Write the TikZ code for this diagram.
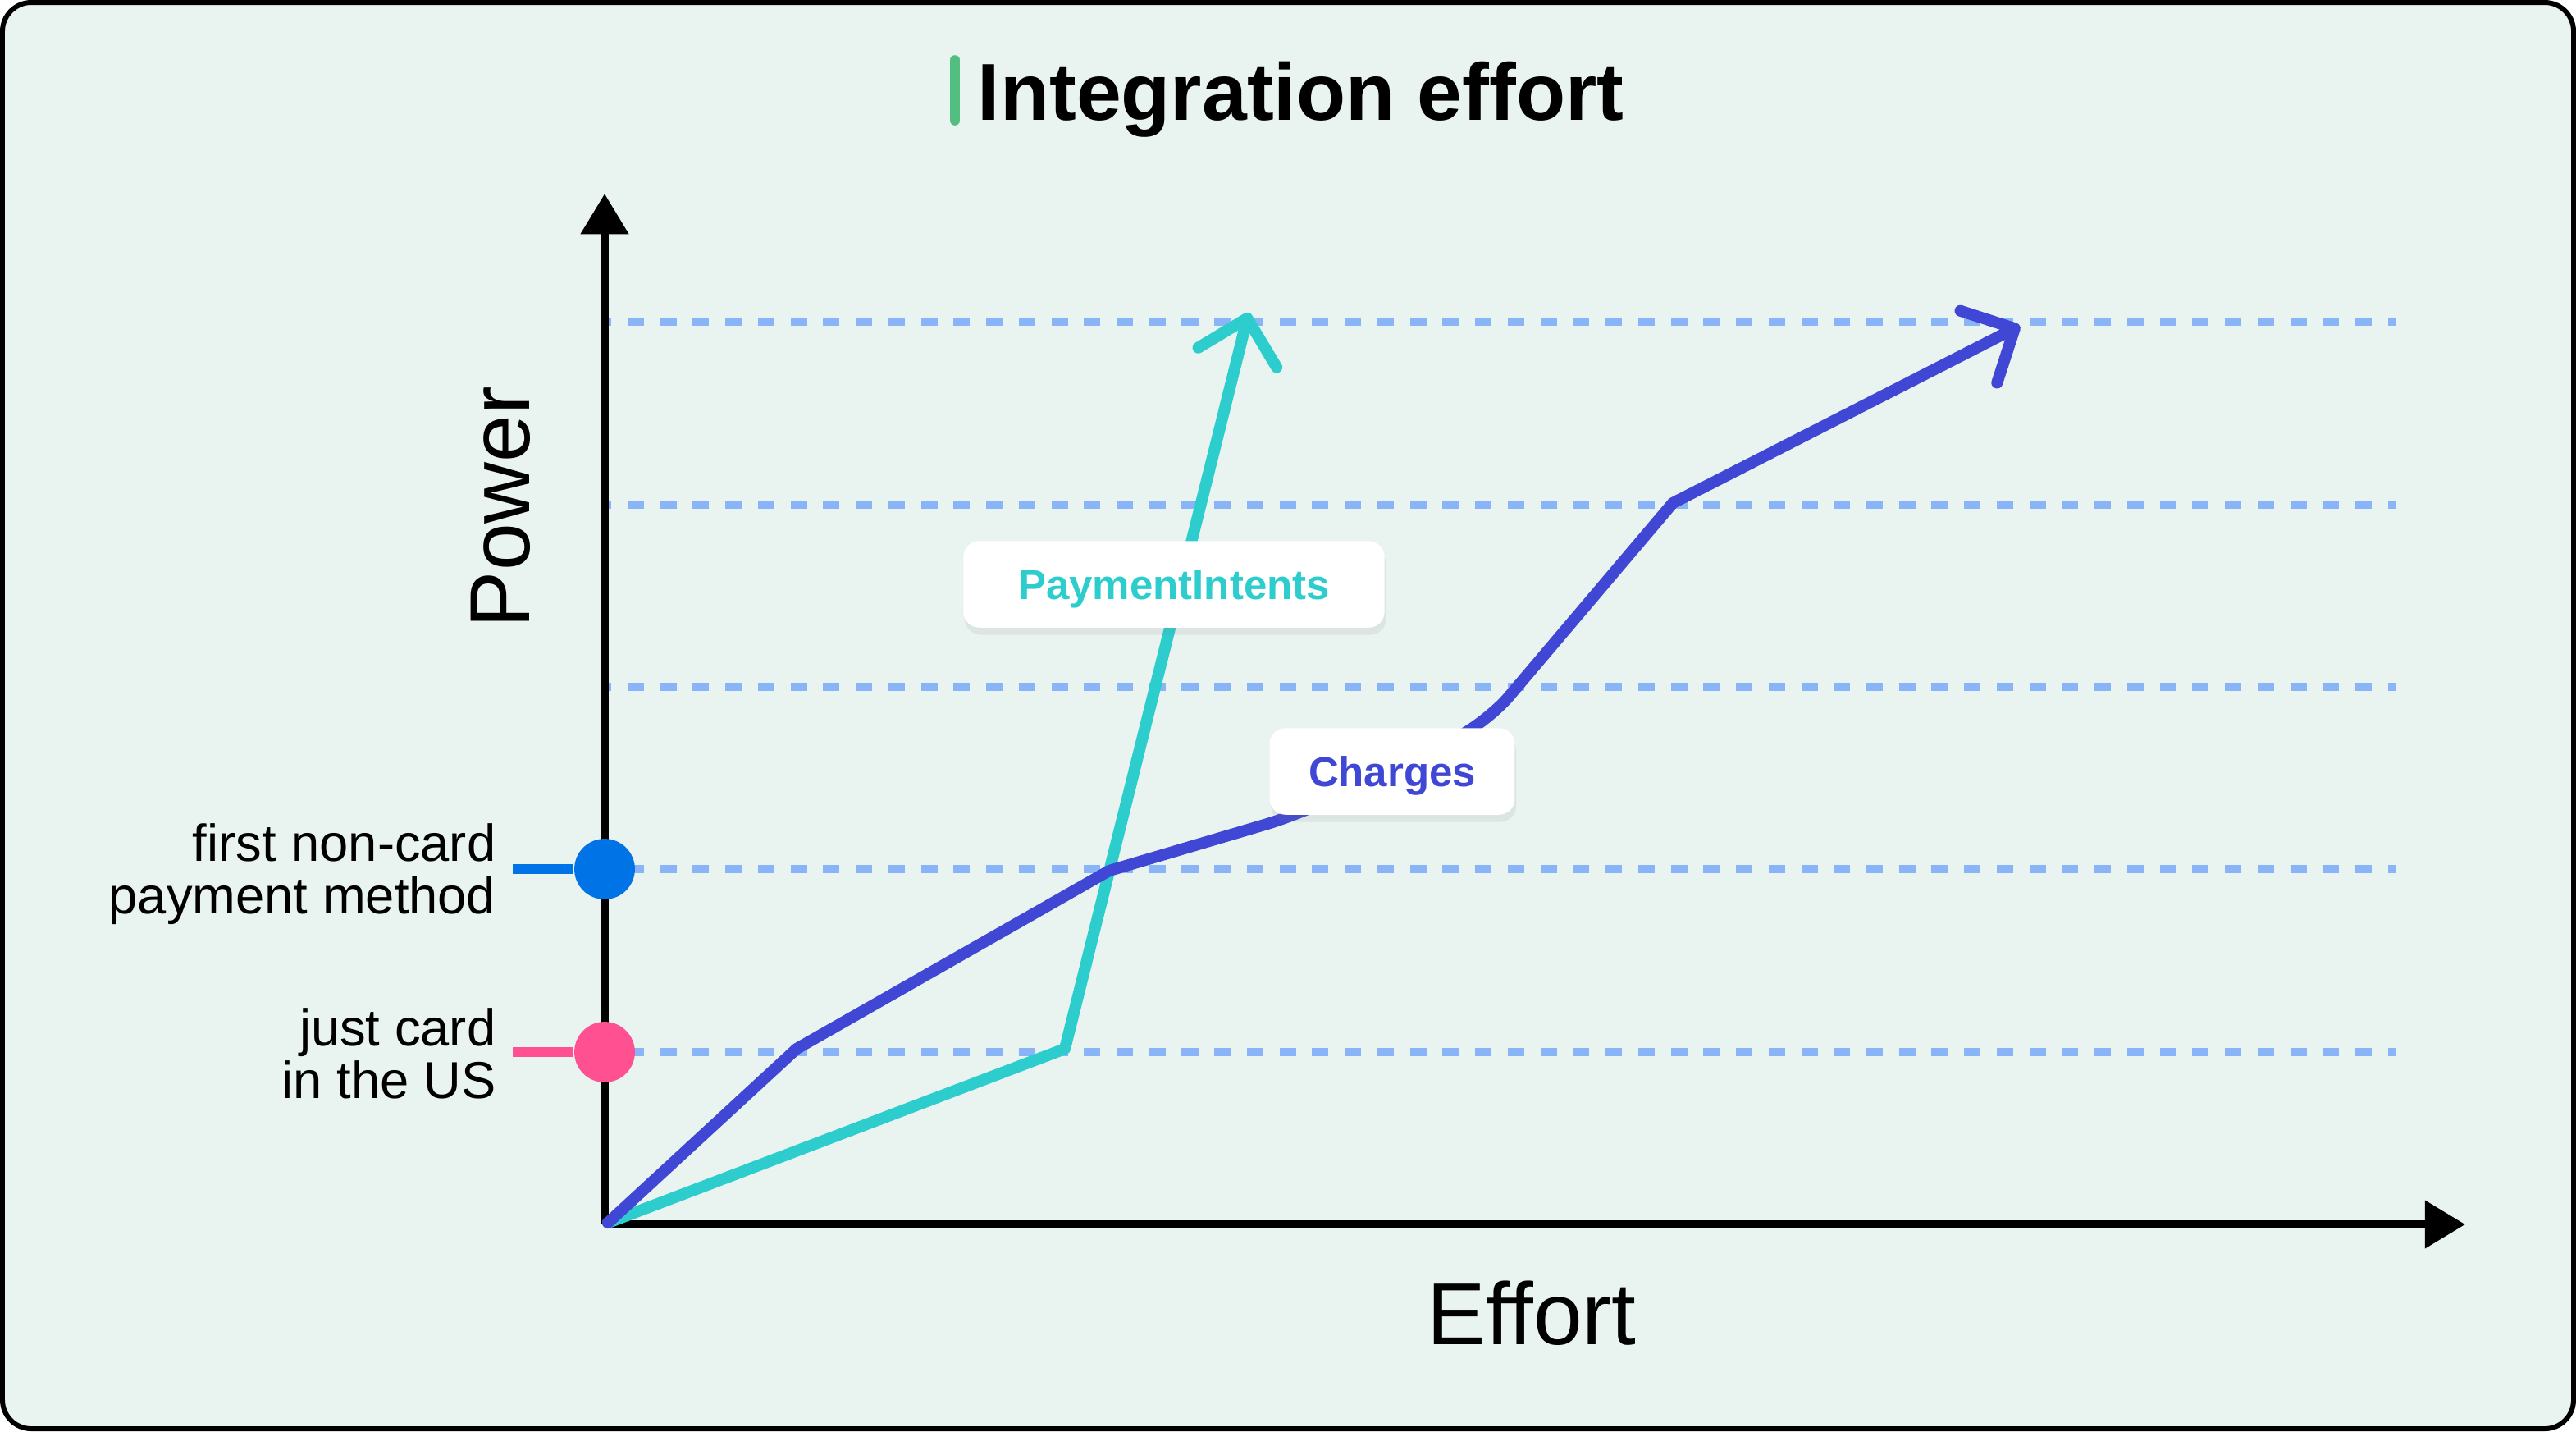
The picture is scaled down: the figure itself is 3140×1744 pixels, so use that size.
\documentclass[tikz,border=0pt]{standalone}
\usepackage{fontspec}
\setmainfont{Liberation Sans}
\usepackage{tikz}
\usetikzlibrary{arrows.meta, shadows}
\definecolor{bgmint}{HTML}{E9F3EF}
\definecolor{gridblue}{HTML}{8AB4F8}
\definecolor{piteal}{HTML}{2ECDCD}
\definecolor{chindigo}{HTML}{4147D5}
\definecolor{dotblue}{HTML}{0073E6}
\definecolor{dotpink}{HTML}{FF5191}
\definecolor{titlegreen}{HTML}{52BE80}

\begin{document}
\begin{tikzpicture}[x=0.01cm, y=-0.01cm,
    tag/.style={fill=white, rounded corners=5.5pt, inner sep=0pt, minimum height=30pt,
        text height=10.4pt, text depth=0pt,
        font=\fontsize{14.5}{17}\selectfont\bfseries,
        drop shadow={shadow xshift=0.5pt, shadow yshift=-2.5pt, opacity=0.12}},
    marker/.style={circle, minimum size=21pt, inner sep=0pt},
    sidelabel/.style={font=\fontsize{18}{18.2}\selectfont, align=right, inner sep=0pt, anchor=east},
    curve/.style={line width=4pt, line join=round, line cap=round,
        -{Straight Barb[length=14pt,width=28pt,round]}}]
    \useasboundingbox (0,0) rectangle (3140,1744);

    % Frame
    \draw[line width=1.7pt, fill=bgmint, rounded corners=10pt] (3,3) rectangle (3137,1741);

    % Title
    \coordinate (bartop) at (1164,73);
    \coordinate (barbot) at (1164,147);
    \draw[titlegreen, line width=3.3pt, line cap=round] (bartop) -- (barbot);
    \node[anchor=base west, inner sep=0pt, font=\fontsize{28}{32}\selectfont\bfseries] (title) at (1191,146) {Integration effort};

    % Power levels
    \foreach \y in {392,615,837,1059,1282}
        \draw[gridblue, line width=2.65pt, dash pattern=on 5.7pt off 5.6pt, dash phase=4.5pt] (741,\y) -- (2920,\y);

    % Axes
    \coordinate (o) at (737,1492);
    \coordinate (xtip) at (3005,1492);
    \coordinate (ytip) at (737,236);
    \draw[line width=2.85pt, -{Triangle[length=14pt,width=16pt]}] (o) -- (xtip);
    \draw[line width=2.85pt, -{Triangle[length=14pt,width=16pt]}] (o) -- (ytip);
    \node[anchor=base, inner sep=0pt, font=\fontsize{30.5}{34}\selectfont] (xlab) at (1867,1638) {Effort};
    \node[rotate=90, anchor=base, inner sep=0pt, font=\fontsize{29.5}{34}\selectfont] (ylab) at (645,618) {Power};

    % PaymentIntents
    \coordinate (start) at (741,1490);
    \draw[curve, piteal] (start) -- (1298,1278) -- (1522,381);
    % Charges
    \draw[curve, chindigo] (start) -- (971,1278) -- (1352,1061) [rounded corners=12pt] -- (1582,993)
        -- (1812,881) [sharp corners] -- (2039,613) -- (2462,397);

    \node[tag, text=piteal, minimum width=146pt] (pi) at (1431,712) {PaymentIntents};
    \node[tag, text=chindigo, minimum width=85pt] (ch) at (1697,940) {Charges};

    % Markers on the power axis
    \coordinate (t2) at (625,1059);
    \coordinate (t1) at (625,1282);
    \node[marker, fill=dotblue] (m2) at (737,1059) {};
    \node[marker, fill=dotpink] (m1) at (737,1282) {};
    \draw[dotblue, line width=3.4pt] (t2) -- (m2);
    \draw[dotpink, line width=3.4pt] (t1) -- (m1);
    \node[sidelabel] (l2) at (605,1065) {first non-card\\payment method};
    \node[sidelabel] (l1) at (605,1284) {just card\\in the US};
\end{tikzpicture}
\end{document}
